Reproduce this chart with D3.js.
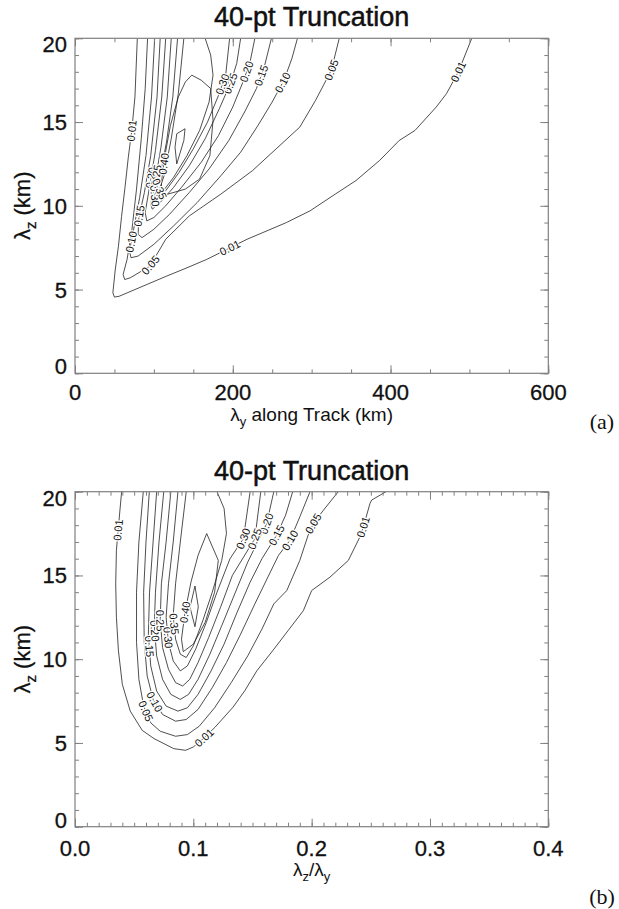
<!DOCTYPE html>
<html>
<head>
<meta charset="utf-8">
<script src="https://cdn.jsdelivr.net/npm/d3@7/dist/d3.min.js"></script>
<style>
body { margin: 0; background: #fff; }
text { font-family: "Liberation Sans", Arial, sans-serif; }
</style>
</head>
<body>
<script>

// ---------- panel (a): lambda_y along track (km) vs lambda_z (km)
var xTicksA = [0, 200, 400, 600];
var yTicks = [0, 5, 10, 15, 20];
var levels = ["0.01", "0.05", "0.10", "0.15", "0.20", "0.25", "0.30", "0.35", "0.40", "0.45"];

// contour lines, [lambda_y, lambda_z]
var a001 = [[79,20],[76,16.5],[72,14.5],[67.6,12.9],[63.4,11.1],[59,9.35],[55,7.56],[51,6.17],[48,4.8],[50,4.55],[56,4.6],[66,4.8],[91,5.3],[116,5.8],[142,6.3],[167,6.8],[218,8.0],[268,9.0],[298,9.7],[330,10.7],[356,11.5],[386,12.7],[411,13.9],[431,14.5],[458,15.9],[471,16.7],[486,18.0],[503,20]];
var a005 = [[92,20],[89,17],[84,14],[78,11],[72,8.5],[66,6.8],[61,5.9],[63,5.6],[70,5.7],[95,6.4],[115,8.0],[145,9.4],[185,10.7],[225,12.1],[255,13.4],[285,14.7],[305,16.3],[325,18.1],[335,20]];
var a010 = [[101,20],[97,16.5],[90,13],[82,10.5],[74,8.5],[69,7.3],[71,6.9],[80,7.0],[100,7.7],[125,8.8],[155,10.2],[185,11.8],[210,13.2],[232,14.8],[250,16.2],[265,17.5],[275,18.8],[282,20]];
var a015 = [[108,20],[104,16.5],[96,13],[88,10.8],[81,9.3],[80,8.3],[85,8.1],[100,8.6],[120,9.5],[145,10.8],[170,12.2],[195,13.9],[215,15.6],[230,17.0],[240,18.3],[249,20]];
var a020 = [[115,20],[110,16.5],[102,13.3],[94,11],[89,9.6],[91,9.1],[100,9.3],[115,10],[135,11.1],[160,12.6],[182,14.2],[200,15.9],[213,17.4],[222,18.6],[228,20]];
var a025 = [[122,20],[117,16.5],[109,13.5],[101,11.3],[96,10.1],[98,9.8],[108,10.2],[125,11.1],[145,12.4],[165,14],[183,15.8],[197,17.3],[205,18.5],[210,20]];
var a030 = [[130,20],[124,16.5],[116,13.8],[107,11.6],[101,10.6],[104,10.3],[115,10.9],[132,12],[150,13.4],[168,15],[182,16.6],[191,17.8],[196,20]];
var a035 = [[138,20],[131,16.7],[122,14],[113,11.8],[107,11.0],[112,10.9],[125,11.7],[142,13],[158,14.5],[170,16.2],[175,17.8],[172,19],[165,20]];
var a040 = [[148,17.8],[160,17.5],[172,17],[175,15.1],[171,13],[158,11.6],[140,11.0],[118,10.7],[109,10.6],[110,11.6],[114,13.0],[121,14.8],[131,16.5],[140,17.4],[148,17.8]];
var a045 = [[129,14.3],[139.5,14.6],[138,13.9],[129,12.5],[126.8,13.5],[129,14.3]];

// label anchors [level, lambda_y, lambda_z]
var labelsA = [["0.01",71.8,14.5],["0.01",196.5,7.46],["0.01",486,18.0],["0.05",95,6.5],["0.05",325,18.1],
  ["0.10",67.6,7.9],["0.10",266,17.3],["0.15",81,9.4],["0.15",241,17.7],["0.20",91.7,11.7],["0.20",224,17.9],
  ["0.25",93,11.9],["0.25",205,17.2],["0.30",94,10.5],["0.30",190,17.2],["0.35",101,10.9],["0.40",112,12.5]];

// ---------- panel (b): lambda_z / lambda_y vs lambda_z (km)
var xTicksB = [0.0, 0.1, 0.2, 0.3, 0.4];

var b001 = [[0.0394,20],[0.0367,17.9],[0.035,16.5],[0.0344,14.5],[0.035,12.5],[0.0367,10.5],[0.040,8.5],[0.0467,6.9],[0.0568,5.75],[0.0668,5.26],[0.0835,4.66],[0.0935,4.56],[0.1,4.76],[0.1085,5.26],[0.1185,5.95],[0.1336,7.14],[0.1436,8.13],[0.1536,9.3],[0.167,10.5],[0.18,11.7],[0.193,12.9],[0.2,14.1],[0.2155,14.9],[0.231,15.9],[0.2408,17.3],[0.2437,17.9],[0.2493,19.3],[0.2507,19.5],[0.2628,20]];
var b005 = [[0.0577,20],[0.054,17],[0.052,14],[0.052,11],[0.054,8.8],[0.058,7.2],[0.064,6.2],[0.072,5.7],[0.085,5.4],[0.095,5.5],[0.105,6.0],[0.118,7.1],[0.132,8.6],[0.146,10.2],[0.158,11.8],[0.168,13.3],[0.179,14.1],[0.19,15.9],[0.197,17.4],[0.2014,18.1],[0.21,18.9],[0.2225,20]];
var b010 = [[0.0628,20],[0.060,17],[0.058,14],[0.0585,11],[0.061,9],[0.066,7.6],[0.074,6.7],[0.085,6.3],[0.094,6.4],[0.104,7.0],[0.116,8.3],[0.128,9.8],[0.14,11.5],[0.152,13.3],[0.163,14.9],[0.172,16.2],[0.1817,17.1],[0.19,18.5],[0.1986,20]];
var b015 = [[0.0690,20],[0.066,17],[0.063,14],[0.062,11.5],[0.064,9.6],[0.069,8.1],[0.077,7.2],[0.087,6.9],[0.095,7.1],[0.104,7.9],[0.115,9.3],[0.126,10.9],[0.137,12.8],[0.148,14.6],[0.158,16],[0.1704,17.4],[0.178,18.6],[0.184,20]];
var b020 = [[0.075,20],[0.071,17],[0.068,14],[0.067,12],[0.069,10.2],[0.074,8.8],[0.081,7.9],[0.089,7.6],[0.096,7.9],[0.104,8.8],[0.114,10.3],[0.124,12],[0.135,13.9],[0.146,15.8],[0.162,18.1],[0.168,20]];
var b025 = [[0.081,20],[0.077,17],[0.073,14.5],[0.072,12.3],[0.074,10.7],[0.079,9.4],[0.085,8.6],[0.091,8.4],[0.097,8.8],[0.104,9.8],[0.113,11.3],[0.123,13.1],[0.133,15],[0.152,17.2],[0.157,20]];
var b030 = [[0.087,20],[0.083,17],[0.079,14.5],[0.077,12.5],[0.079,11],[0.083,9.9],[0.089,9.3],[0.095,9.6],[0.102,10.6],[0.111,12.2],[0.12,14],[0.131,16],[0.1423,17.2],[0.148,20]];
var b035 = [[0.094,20],[0.089,17],[0.085,14.5],[0.083,12.6],[0.085,11.2],[0.089,10.3],[0.094,10.1],[0.1,10.8],[0.108,12.3],[0.116,14],[0.124,15.9],[0.128,17.5],[0.126,19],[0.12,20]];
var b040 = [[0.1113,17.5],[0.1211,15.9],[0.118,14],[0.11,12.2],[0.1,10.9],[0.0915,10.45],[0.09,11.2],[0.093,12.8],[0.098,14.6],[0.104,16.2],[0.1113,17.5]];
var b045 = [[0.1014,14.37],[0.1042,13.13],[0.1014,11.94],[0.0972,13.1],[0.1014,14.37]];

var labelsB = [["0.01",0.0366,17.7],["0.01",0.1085,5.37],["0.01",0.2437,17.9],["0.05",0.0592,6.9],["0.05",0.2014,18.1],
  ["0.10",0.0655,7.4],["0.10",0.1817,17.1],["0.15",0.0625,10.75],["0.15",0.1704,17.4],["0.20",0.1620,18.1],
  ["0.25",0.1520,17.2],["0.30",0.1423,17.2],["0.20",0.0690,11.7],["0.25",0.0740,12.3],["0.30",0.0775,11.3],
  ["0.35",0.0840,12.1],["0.40",0.0870,12.9]];

var contoursA = [a001, a005, a010, a015, a020, a025, a030, a035, a040, a045];
var contoursB = [b001, b005, b010, b015, b020, b025, b030, b035, b040, b045];

var width = 619, height = 909;
var svg = d3.select("body").append("svg").attr("width", width).attr("height", height);

function drawPanel(cfg) {
  var g = svg.append("g").attr("transform", "translate(" + cfg.left + "," + cfg.top + ")");
  var w = 473.3, h = 335;

  var x = d3.scaleLinear().domain(cfg.xDomain).range([0, w]);
  var y = d3.scaleLinear().domain([0, 20]).range([h, 0]);

  var line = d3.line().x(d => x(d[0])).y(d => y(d[1]));

  g.append("clipPath").attr("id", cfg.id).append("rect").attr("width", w).attr("height", h);

  var lines = g.append("g").attr("clip-path", "url(#" + cfg.id + ")");
  var paths = {};
  cfg.contours.forEach(function(c, i) {
    paths[levels[i]] = lines.append("path")
      .attr("d", line(c))
      .attr("fill", "none")
      .attr("stroke", "#222")
      .attr("stroke-width", 0.8)
      .node();
  });

  // contour labels, aligned with the line at the nearest point
  cfg.labels.forEach(function(l) {
    var p = paths[l[0]];
    var px = x(l[1]), py = y(l[2]);
    var len = p.getTotalLength(), best = 0, bd = Infinity;
    for (var s = 0; s <= len; s += 0.5) {
      var q = p.getPointAtLength(s);
      var dd = (q.x - px) * (q.x - px) + (q.y - py) * (q.y - py);
      if (dd < bd) { bd = dd; best = s; }
    }
    var a = p.getPointAtLength(Math.max(0, best - 4)), b = p.getPointAtLength(Math.min(len, best + 4));
    var c = p.getPointAtLength(best);
    var ang = Math.atan2(b.y - a.y, b.x - a.x) * 180 / Math.PI;
    if (ang > 90) ang -= 180;
    if (ang <= -90) ang += 180;
    g.append("text")
      .attr("transform", "translate(" + c.x + "," + c.y + ") rotate(" + ang + ")")
      .attr("text-anchor", "middle")
      .attr("dy", "0.35em")
      .attr("font-size", 11)
      .attr("fill", "#111")
      .attr("stroke", "#fff")
      .attr("stroke-width", 2.5)
      .attr("paint-order", "stroke")
      .text(l[0]);
  });

  // frame and ticks
  var tickCol = "#808080";
  function styleAxis(sel) {
    sel.select(".domain").remove();
    sel.selectAll(".tick line").attr("stroke", tickCol);
    sel.selectAll(".tick text").remove();
  }
  var minorX = d3.range(cfg.xDomain[0], cfg.xDomain[1] + cfg.xMinor / 2, cfg.xMinor);
  var minorY = d3.range(0, 20.5, 1);

  g.append("g").attr("transform", "translate(0," + h + ")")
    .call(d3.axisTop(x).tickValues(minorX).tickSize(4)).call(styleAxis);
  g.append("g").attr("transform", "translate(0," + h + ")")
    .call(d3.axisTop(x).tickValues(cfg.xTicks).tickSize(8)).call(styleAxis);
  g.append("g").call(d3.axisBottom(x).tickValues(minorX).tickSize(4)).call(styleAxis);
  g.append("g").call(d3.axisBottom(x).tickValues(cfg.xTicks).tickSize(8)).call(styleAxis);
  g.append("g").call(d3.axisRight(y).tickValues(minorY).tickSize(4)).call(styleAxis);
  g.append("g").call(d3.axisRight(y).tickValues(yTicks).tickSize(8)).call(styleAxis);
  g.append("g").attr("transform", "translate(" + w + ",0)")
    .call(d3.axisLeft(y).tickValues(minorY).tickSize(4)).call(styleAxis);
  g.append("g").attr("transform", "translate(" + w + ",0)")
    .call(d3.axisLeft(y).tickValues(yTicks).tickSize(8)).call(styleAxis);

  g.append("rect").attr("width", w).attr("height", h)
    .attr("fill", "none").attr("stroke", tickCol).attr("stroke-width", 1.2);

  // tick labels
  g.selectAll(".xl").data(cfg.xTicks).join("text")
    .attr("x", d => x(d)).attr("y", h + cfg.xLabDy)
    .attr("text-anchor", "middle").attr("font-size", 22).attr("fill", "#111")
    .attr("stroke", "#111").attr("stroke-width", 0.3)
    .text(cfg.xFormat);
  g.selectAll(".yl").data(yTicks).join("text")
    .attr("x", -8).attr("y", d => y(d) + 8 + (d == 20 ? 6 : d == 0 ? -7 : 0))
    .attr("text-anchor", "end").attr("font-size", 22).attr("fill", "#111")
    .attr("stroke", "#111").attr("stroke-width", 0.3)
    .text(d => d);

  // title
  g.append("text").attr("x", w / 2).attr("y", -12)
    .attr("text-anchor", "middle").attr("font-size", 27).attr("fill", "#111")
    .attr("stroke", "#111").attr("stroke-width", 0.5)
    .text("40-pt Truncation");

  // y title
  var yt = g.append("text").attr("transform", "translate(-45," + (h / 2) + ") rotate(-90)")
    .attr("text-anchor", "middle").attr("font-size", 22).attr("fill", "#111")
    .attr("stroke", "#111").attr("stroke-width", 0.3);
  yt.append("tspan").text("\u03bb");
  yt.append("tspan").attr("dy", 6).attr("font-size", 15).text("z");
  yt.append("tspan").attr("dy", -6).text(" (km)");

  // x title
  var xt = g.append("text").attr("x", w / 2).attr("y", h + cfg.xTitleDy)
    .attr("text-anchor", "middle").attr("font-size", 19).attr("fill", "#111");
  cfg.xTitle(xt);

  // panel letter
  svg.append("text").attr("x", 602).attr("y", cfg.top + h + cfg.letterDy)
    .attr("text-anchor", "middle")
    .style("font-family", "'Liberation Serif', 'Times New Roman', serif")
    .attr("font-size", 22).attr("fill", "#111")
    .text(cfg.letter);
}

drawPanel({
  id: "clipA", left: 75, top: 38.3, xDomain: [0, 600], xTicks: xTicksA, xMinor: 50,
  xFormat: d => d, contours: contoursA, labels: labelsA, letter: "(a)", letterDy: 56,
  xLabDy: 27, xTitleDy: 48,
  xTitle: function(t) {
    t.append("tspan").text("\u03bb");
    t.append("tspan").attr("dy", 5).attr("font-size", 13).text("y");
    t.append("tspan").attr("dy", -5).text(" along Track (km)");
  }
});

drawPanel({
  id: "clipB", left: 75, top: 491.7, xDomain: [0, 0.4], xTicks: xTicksB, xMinor: 0.01,
  xFormat: d => d.toFixed(1), contours: contoursB, labels: labelsB, letter: "(b)", letterDy: 77,
  xLabDy: 29, xTitleDy: 49,
  xTitle: function(t) {
    t.append("tspan").text("\u03bb");
    t.append("tspan").attr("dy", 5).attr("font-size", 13).text("z");
    t.append("tspan").attr("dy", -5).text("/\u03bb");
    t.append("tspan").attr("dy", 5).attr("font-size", 13).text("y");
  }
});

</script>
</body>
</html>
